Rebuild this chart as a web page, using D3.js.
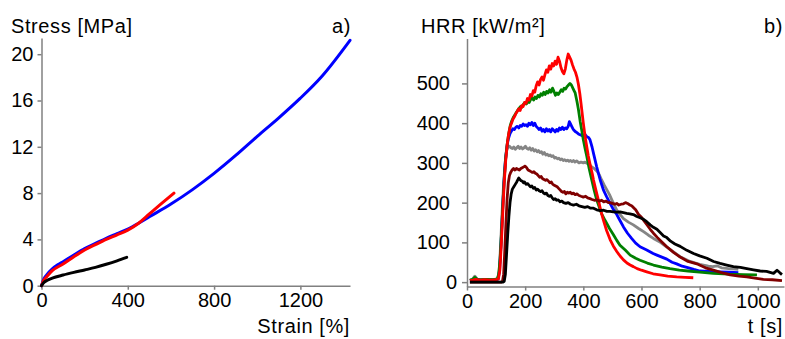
<!DOCTYPE html>
<meta charset="utf-8">
<style>
  body { margin: 0; background: #fff; }
  svg text { font-family: "Liberation Sans", Arial, sans-serif; font-size: 20px; fill: #000; }
  .title { letter-spacing: 0.6px; }
</style>
<svg width="785" height="339"></svg>
<script src="https://cdn.jsdelivr.net/npm/d3@7/dist/d3.min.js"></script>
<script>
// panel a) stress-strain curves [strain %, stress MPa]
var stressBlue = [[0,0],[10,0.55],[25,0.95],[50,1.45],[75,1.8],[100,2.07],[150,2.65],[200,3.2],[250,3.65],[300,4.1],[350,4.5],[400,4.9],[450,5.4],[500,5.95],[600,7.05],[700,8.3],[800,9.7],[900,11.25],[1000,12.9],[1100,14.5],[1200,16.2],[1300,18.1],[1430,21.2]];
var stressRed = [[0,0],[10,0.45],[25,0.8],[50,1.3],[100,1.87],[150,2.5],[200,3.08],[250,3.55],[300,4.0],[350,4.4],[400,4.8],[450,5.4],[500,6.2],[550,7.0],[614,8.0]];
var stressBlack = [[0,0],[10,0.25],[25,0.45],[50,0.65],[100,0.92],[150,1.15],[200,1.36],[250,1.58],[300,1.85],[350,2.15],[395,2.45]];
var strainTicks = [0, 400, 800, 1200];
var stressTicks = [0, 4, 8, 12, 16, 20];

// panel b) heat release rate [t s, HRR kW/m2]
var hrrRed = [[10,4],[20,5],[30,7],[45,5],[60,6],[80,5],[100,6],[108,8],[113,30],[118,95],[123,175],[128,250],[133,305],[138,345],[143,372],[148,390],[153,400],[158,410],[163,416],[168,424],[173,430],[178,436],[183,432],[188,444],[193,442],[198,452],[203,450],[208,462],[213,458],[218,472],[223,468],[228,482],[233,478],[238,494],[243,504],[248,496],[253,510],[258,516],[263,508],[268,522],[273,534],[278,528],[283,544],[288,536],[293,550],[298,544],[303,556],[308,548],[313,566],[318,556],[323,540],[328,530],[333,524],[338,536],[343,558],[348,574],[353,566],[358,558],[363,546],[368,536],[373,528],[378,516],[383,498],[388,474],[392,450],[396,425],[400,400],[404,378],[408,358],[412,340],[417,318],[422,300],[426,287],[431,272],[435,257],[443,232],[452,206],[460,180],[469,156],[480,130],[492,107],[503,91],[515,77],[527,65],[538,56],[550,48],[561,43],[572,39],[585,34],[600,30],[618,26],[640,21],[664,18],[690,15],[721,13],[750,12],[778,11]];
var hrrGreen = [[10,5],[20,7],[27,12],[35,7],[50,6],[70,7],[90,6],[104,8],[109,20],[114,60],[119,130],[124,205],[129,270],[134,320],[139,352],[144,376],[149,395],[154,406],[159,414],[164,420],[169,426],[174,432],[179,437],[184,442],[189,440],[194,448],[199,452],[204,448],[209,456],[214,452],[219,460],[224,464],[229,458],[234,466],[239,462],[244,470],[249,466],[254,474],[259,470],[264,478],[269,472],[274,480],[279,476],[284,484],[289,478],[294,488],[299,480],[304,470],[309,476],[314,472],[319,478],[324,484],[329,480],[334,488],[339,486],[344,492],[349,496],[354,500],[359,496],[364,488],[368,482],[372,476],[378,455],[383,435],[389,405],[395,380],[400,358],[406,336],[412,316],[420,286],[429,257],[437,232],[446,207],[455,188],[463,172],[475,155],[490,135],[503,120],[515,105],[526,93],[545,80],[561,68],[580,60],[595,55],[620,48],[641,43],[670,38],[698,34],[730,30],[760,28],[800,25],[847,22],[900,20],[950,19],[997,18]];
var hrrBlue = [[10,4],[20,5],[30,8],[45,5],[60,6],[80,5],[100,6],[107,8],[112,30],[117,95],[122,175],[127,250],[132,305],[137,340],[142,360],[148,374],[153,380],[158,386],[163,384],[168,390],[173,392],[178,388],[183,394],[188,392],[193,398],[198,394],[203,396],[208,392],[213,400],[218,396],[223,402],[228,394],[233,400],[238,392],[243,388],[248,384],[253,388],[258,380],[263,384],[268,378],[273,386],[278,380],[283,384],[288,378],[293,386],[298,382],[303,378],[308,384],[313,380],[318,388],[323,384],[328,390],[333,384],[338,388],[343,386],[348,392],[352,404],[356,398],[360,392],[364,386],[368,382],[372,379],[378,376],[385,372],[392,370],[398,368],[405,372],[412,366],[418,364],[423,358],[430,340],[435,324],[446,290],[458,257],[469,232],[480,215],[492,198],[503,183],[515,170],[526,155],[538,139],[552,123],[566,110],[580,98],[595,89],[618,81],[640,72],[653,68],[670,63],[687,58],[705,50],[721,46],[740,40],[756,37],[780,32],[801,28],[830,27],[870,26],[900,25],[933,24]];
var hrrGray = [[10,4],[20,8],[27,15],[34,8],[45,5],[60,6],[80,5],[100,6],[106,8],[111,30],[116,100],[121,180],[126,250],[131,300],[136,330],[141,340],[146,342],[151,338],[156,336],[161,340],[166,334],[171,338],[176,342],[181,336],[186,340],[191,335],[196,338],[201,342],[206,336],[211,334],[216,338],[221,332],[226,336],[231,330],[236,333],[241,328],[246,331],[251,326],[256,328],[261,322],[266,326],[271,320],[276,322],[281,318],[286,320],[291,316],[296,318],[301,312],[306,314],[311,310],[316,312],[321,308],[326,310],[331,306],[336,308],[341,305],[346,307],[351,304],[356,306],[361,303],[366,306],[371,302],[377,305],[385,300],[392,302],[400,300],[406,302],[412,299],[420,296],[429,290],[437,286],[446,280],[455,270],[463,257],[472,244],[481,232],[490,220],[498,207],[507,193],[515,181],[527,170],[538,160],[555,151],[572,144],[590,135],[607,127],[624,118],[641,110],[665,100],[687,88],[710,76],[733,64],[767,52],[800,45],[830,40],[845,39],[860,41],[875,36],[900,34],[933,32]];
var hrrMaroon = [[10,0],[60,0],[100,0],[118,0],[122,2],[126,20],[130,80],[134,150],[138,210],[142,250],[146,268],[150,276],[155,282],[160,286],[165,282],[170,286],[175,284],[180,282],[185,286],[190,288],[195,290],[200,292],[205,288],[210,282],[215,280],[220,278],[225,276],[230,278],[235,274],[240,272],[245,268],[250,264],[255,266],[260,260],[265,258],[270,256],[275,258],[280,254],[285,250],[290,252],[295,246],[300,244],[305,242],[310,240],[315,236],[320,232],[325,228],[330,226],[335,228],[340,222],[345,226],[350,224],[355,226],[360,222],[366,224],[372,220],[378,222],[385,218],[392,216],[400,214],[408,216],[415,212],[423,210],[430,208],[438,206],[446,207],[455,204],[463,206],[470,202],[478,204],[486,200],[492,200],[500,198],[508,196],[515,198],[522,194],[530,196],[538,197],[545,200],[552,198],[560,194],[566,192],[572,188],[580,182],[590,170],[600,163],[607,156],[618,145],[630,133],[641,123],[655,112],[670,101],[687,89],[710,75],[733,63],[760,52],[790,46],[820,36],[847,30],[875,24],[905,18],[935,15],[962,13],[990,10],[1019,7],[1050,6],[1083,4]];
var hrrBlack = [[10,0],[60,0],[100,0],[124,0],[128,2],[132,20],[136,70],[140,120],[144,165],[148,200],[152,222],[156,234],[161,240],[166,246],[171,252],[175,258],[178,262],[182,258],[186,255],[190,254],[194,250],[198,252],[203,246],[208,248],[213,244],[218,240],[223,242],[228,236],[233,238],[238,232],[243,234],[248,230],[253,228],[258,230],[263,224],[268,222],[273,224],[278,218],[283,216],[288,218],[293,212],[298,208],[303,210],[308,206],[314,207],[320,202],[326,204],[332,200],[340,198],[348,200],[356,196],[366,194],[376,196],[385,192],[395,190],[405,188],[415,190],[425,186],[435,186],[446,182],[458,180],[470,181],[481,178],[492,178],[503,177],[515,176],[526,177],[538,175],[549,173],[560,172],[572,170],[584,165],[595,162],[607,158],[618,152],[630,144],[641,138],[653,133],[665,124],[676,116],[687,112],[700,103],[715,96],[733,90],[756,80],[779,72],[800,66],[825,60],[848,52],[870,47],[893,43],[916,39],[940,37],[962,34],[985,31],[1008,28],[1030,27],[1054,22],[1066,30],[1075,24],[1083,19]];
var timeTicks = [0, 200, 400, 600, 800, 1000];
var hrrTicks = [0, 100, 200, 300, 400, 500];

var svg = d3.select("svg");
var fmt = d3.format("d");

function styleAxis(g) {
  g.select(".domain").attr("stroke", "#808080").attr("stroke-width", 1.5);
  g.selectAll(".tick line").attr("stroke", "#808080").attr("stroke-width", 1.5);
  g.selectAll(".tick text").attr("fill", "#000").attr("font-size", null).attr("font-family", null);
}

// ---- panel a ----
var xA = d3.scaleLinear().domain([0, 1430]).range([41.5, 350]);
var yA = d3.scaleLinear().domain([0, 21.4]).range([285.7, 38]);

svg.append("g")
  .attr("transform", "translate(0," + yA(0) + ")")
  .call(d3.axisBottom(xA).tickValues(strainTicks).tickFormat(fmt).tickSize(4).tickSizeOuter(0).tickPadding(3))
  .call(styleAxis);
svg.append("g")
  .attr("transform", "translate(" + xA(0) + ",0)")
  .call(d3.axisLeft(yA).tickValues(stressTicks).tickFormat(fmt).tickSize(4).tickSizeOuter(0).tickPadding(4))
  .call(styleAxis);

var lineA = d3.line().x(function(d) { return xA(d[0]); }).y(function(d) { return yA(d[1]); }).curve(d3.curveMonotoneX);
[[stressBlue, "#0000ff"], [stressRed, "#ff0000"], [stressBlack, "#000000"]].forEach(function(s) {
  svg.append("path").datum(s[0]).attr("d", lineA)
    .attr("fill", "none").attr("stroke", s[1]).attr("stroke-width", 3).attr("stroke-linecap", "round");
});

svg.append("text").attr("class", "title").attr("x", 11).attr("y", 33).text("Stress [MPa]");
svg.append("text").attr("class", "title").attr("x", 351).attr("y", 33).attr("text-anchor", "end").text("a)");
svg.append("text").attr("class", "title").attr("x", 350).attr("y", 333).attr("text-anchor", "end").text("Strain [%]");

// ---- panel b ----
var xB = d3.scaleLinear().domain([0, 1090]).range([467, 784]);
var yB = d3.scaleLinear().domain([-11, 613]).range([286.5, 38.5]);

svg.append("g")
  .attr("transform", "translate(0," + yB(-11) + ")")
  .call(d3.axisBottom(xB).tickValues(timeTicks).tickFormat(fmt).tickSize(4).tickSizeOuter(0).tickPadding(3))
  .call(styleAxis);
var yAxisB = svg.append("g")
  .attr("transform", "translate(" + xB(0) + ",0)")
  .call(d3.axisLeft(yB).tickValues(hrrTicks).tickFormat(fmt).tickSize(5).tickSizeOuter(0).tickPadding(12))
  .call(styleAxis);
yAxisB.selectAll(".tick text").filter(function(d) { return d === 0; }).attr("x", -10);

var lineB = d3.line().x(function(d) { return xB(d[0]); }).y(function(d) { return yB(d[1]); });
[[hrrGray, "#858585"], [hrrBlue, "#0000ff"], [hrrGreen, "#008000"], [hrrRed, "#ff0000"], [hrrMaroon, "#800000"], [hrrBlack, "#000000"]].forEach(function(s) {
  svg.append("path").datum(s[0]).attr("d", lineB)
    .attr("fill", "none").attr("stroke", s[1]).attr("stroke-width", 2.8).attr("stroke-linejoin", "round");
});

svg.append("text").attr("class", "title").attr("x", 421).attr("y", 33).text("HRR [kW/m²]");
svg.append("text").attr("class", "title").attr("x", 783).attr("y", 33).attr("text-anchor", "end").text("b)");
svg.append("text").attr("class", "title").attr("x", 783).attr("y", 333).attr("text-anchor", "end").text("t [s]");
</script>
